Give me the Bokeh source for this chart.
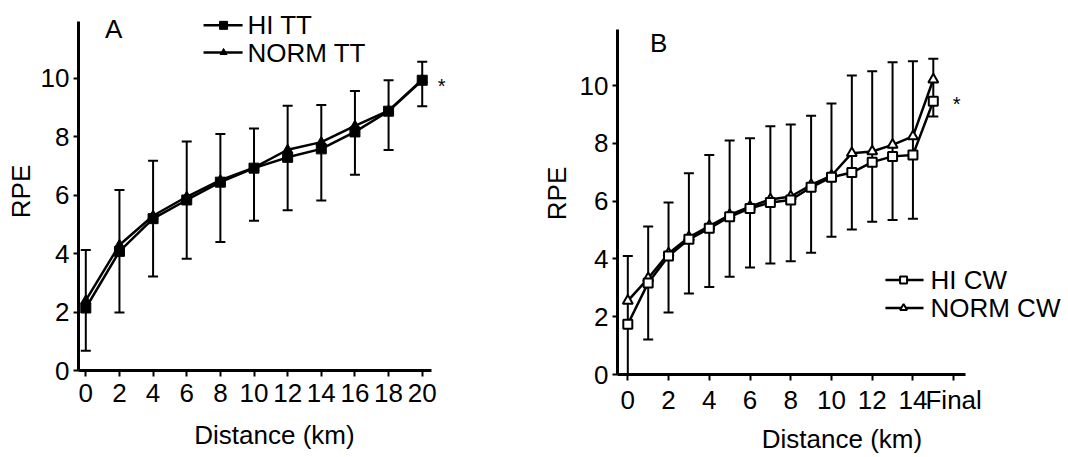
from bokeh.plotting import figure
from bokeh.layouts import row
from bokeh.models import Whisker, ColumnDataSource, Label, FixedTicker, TeeHead, Range1d
from bokeh.embed import file_html
from bokeh.resources import INLINE

FONT = "Liberation Sans"

# ---------------- data: panel A (time trial) ----------------
dist_a = [0, 2, 4, 6, 8, 10, 12, 14, 16, 18, 20]
hi_tt = [2.14, 4.08, 5.20, 5.84, 6.45, 6.93, 7.30, 7.59, 8.17, 8.88, 9.94]
norm_tt = [2.40, 4.30, 5.30, 5.95, 6.52, 6.95, 7.56, 7.82, 8.38, 8.90, 9.96]
err_a_upper = [4.13, 6.18, 7.18, 7.84, 8.10, 8.29, 9.07, 9.09, 9.57, 9.94, 10.57]
err_a_lower = [0.68, 1.99, 3.22, 3.83, 4.40, 5.13, 5.49, 5.82, 6.70, 7.55, 9.05]
xticks_a = [0, 2, 4, 6, 8, 10, 12, 14, 16, 18, 20]

# ---------------- data: panel B (constant work) ----------------
stage_b = list(range(16))  # 0..14 km and "Final" (plotted at 15)
hi_cw = [1.74, 3.17, 4.10, 4.68, 5.06, 5.46, 5.75, 5.95, 6.04, 6.48, 6.83, 6.99, 7.35, 7.55, 7.60, 9.46]
norm_cw = [2.55, 3.33, 4.19, 4.75, 5.14, 5.52, 5.81, 6.06, 6.16, 6.56, 6.88, 7.66, 7.72, 7.95, 8.24, 10.21]
err_b_upper = [4.10, 5.12, 5.95, 6.97, 7.60, 8.10, 8.18, 8.59, 8.65, 8.96, 9.38, 10.35, 10.50, 10.81, 10.84, 10.93]
err_b_lower = [0.00, 1.21, 2.15, 2.80, 3.03, 3.38, 3.70, 3.84, 3.92, 4.21, 4.77, 5.02, 5.29, 5.35, 5.39, 8.93]
xticks_b = [0, 2, 4, 6, 8, 10, 12, 14, 16]
xtick_labels_b = {16: "Final"}

yticks = [0, 2, 4, 6, 8, 10]


def style_axes(p, xticks, xbounds, x_lab_standoff, x_title_standoff, y_title_standoff):
    p.xaxis.ticker = FixedTicker(ticks=xticks)
    p.yaxis.ticker = FixedTicker(ticks=yticks)
    p.xaxis.bounds = xbounds
    p.yaxis.bounds = (0, 11.95)
    for ax in (p.xaxis[0], p.yaxis[0]):
        ax.axis_line_width = 3
        ax.axis_line_color = "black"
        ax.major_tick_line_width = 2
        ax.major_tick_line_color = "black"
        ax.major_tick_in = 0
        ax.minor_tick_line_color = None
        ax.major_label_text_font = FONT
        ax.major_label_text_font_size = "26px"
        ax.major_label_text_color = "black"
        ax.axis_label_text_font = FONT
        ax.axis_label_text_font_size = "26px"
        ax.axis_label_text_font_style = "normal"
        ax.axis_label_text_color = "black"
    p.xaxis.major_tick_out = 6
    p.xaxis.major_label_standoff = x_lab_standoff
    p.xaxis.axis_label_standoff = x_title_standoff
    p.xaxis.axis_label = "Distance (km)"
    p.yaxis.major_tick_out = 5
    p.yaxis.major_label_standoff = 4
    p.yaxis.axis_label_standoff = y_title_standoff
    p.yaxis.axis_label = "RPE"
    p.grid.visible = False
    p.outline_line_color = None
    p.background_fill_color = "white"
    p.border_fill_color = "white"


def label(p, x, y, text, size="26px", align="center"):
    p.add_layout(Label(x=x, y=y, text=text, text_font=FONT, text_font_size=size,
                       text_color="black", text_align=align, text_baseline="middle"))


# ================= Panel A =================
pa = figure(frame_width=392, frame_height=358,
            x_range=Range1d(-0.434, 22.87), y_range=Range1d(0, 12.26),
            min_border_left=78, min_border_right=60, min_border_top=12, min_border_bottom=86,
            output_backend="svg", toolbar_location=None)
style_axes(pa, xticks_a, (-0.434, 20.55), 7, 15, 2)

src_a = ColumnDataSource(dict(x=dist_a, hi=hi_tt, norm=norm_tt, up=err_a_upper, lo=err_a_lower))
pa.add_layout(Whisker(base="x", upper="up", lower="lo", source=src_a, line_width=2, line_color="black",
                      upper_head=TeeHead(size=10, line_width=2, line_color="black"),
                      lower_head=TeeHead(size=10, line_width=2, line_color="black")))
pa.line("x", "norm", source=src_a, line_width=2.5, line_color="black")
pa.scatter("x", "norm", source=src_a, marker="triangle", size=10, fill_color="black", line_color="black")
pa.line("x", "hi", source=src_a, line_width=2.5, line_color="black")
pa.scatter("x", "hi", source=src_a, marker="square", size=10, fill_color="black", line_color="black")

# legend A (positions in the panel's data space)
leg_a_x0, leg_a_x1, leg_a_xm, leg_a_xt = 7.0, 9.32, 8.19, 9.61
leg_a_y = [11.82, 10.89]
pa.line([leg_a_x0, leg_a_x1], [leg_a_y[0]] * 2, line_width=2.5, line_color="black")
pa.scatter([leg_a_xm], [leg_a_y[0]], marker="square", size=8, fill_color="black", line_color="black")
pa.line([leg_a_x0, leg_a_x1], [leg_a_y[1]] * 2, line_width=2.5, line_color="black")
pa.scatter([leg_a_xm], [leg_a_y[1]], marker="triangle", size=7, fill_color="black", line_color="black")
label(pa, leg_a_xt, leg_a_y[0], "HI TT", align="left")
label(pa, leg_a_xt, leg_a_y[1], "NORM TT", align="left")
label(pa, 1.65, 11.71, "A")
label(pa, 21.16, 9.76, "*", size="20px")

# ================= Panel B =================
pb = figure(frame_width=449, frame_height=362,
            x_range=Range1d(-0.506, 21.54), y_range=Range1d(0, 12.53),
            min_border_left=87, min_border_right=0, min_border_top=12, min_border_bottom=82,
            output_backend="svg", toolbar_location=None)
style_axes(pb, xticks_b, (-0.506, 16.57), 4, 6, 5)
pb.xaxis.major_label_overrides = xtick_labels_b

src_b = ColumnDataSource(dict(x=stage_b, hi=hi_cw, norm=norm_cw, up=err_b_upper, lo=err_b_lower))
pb.add_layout(Whisker(base="x", upper="up", lower="lo", source=src_b, line_width=2, line_color="black",
                      upper_head=TeeHead(size=10, line_width=2, line_color="black"),
                      lower_head=TeeHead(size=10, line_width=2, line_color="black")))
pb.line("x", "norm", source=src_b, line_width=2.5, line_color="black")
pb.scatter("x", "norm", source=src_b, marker="triangle", size=10, fill_color="white",
           line_color="black", line_width=2)
pb.line("x", "hi", source=src_b, line_width=2.5, line_color="black")
pb.scatter("x", "hi", source=src_b, marker="square", size=9, fill_color="white",
           line_color="black", line_width=2)

leg_b_x0, leg_b_x1, leg_b_xm, leg_b_xt = 12.65, 14.52, 13.54, 14.86
leg_b_y = [3.27, 2.30]
pb.line([leg_b_x0, leg_b_x1], [leg_b_y[0]] * 2, line_width=2.5, line_color="black")
pb.scatter([leg_b_xm], [leg_b_y[0]], marker="square", size=7, fill_color="white", line_color="black", line_width=2)
pb.line([leg_b_x0, leg_b_x1], [leg_b_y[1]] * 2, line_width=2.5, line_color="black")
pb.scatter([leg_b_xm], [leg_b_y[1]], marker="triangle", size=7, fill_color="white", line_color="black", line_width=2)
label(pb, leg_b_xt, leg_b_y[0], "HI CW", align="left")
label(pb, leg_b_xt, leg_b_y[1], "NORM CW", align="left")
label(pb, 1.51, 11.47, "B")
label(pb, 16.14, 9.36, "*", size="20px")

layout = row(pa, pb, spacing=0)
open("out.html", "w").write(file_html(layout, INLINE))
